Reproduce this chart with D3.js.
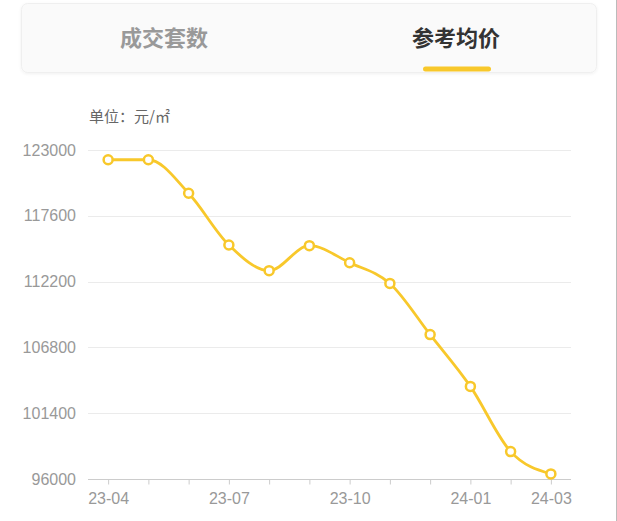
<!DOCTYPE html>
<html>
<head>
<meta charset="utf-8">
<script src="https://cdn.jsdelivr.net/npm/d3@7"></script>
<style>
  html, body { margin: 0; padding: 0; background: #fff; }
  body { width: 617px; height: 521px; overflow: hidden; }
  svg { display: block; }
</style>
</head>
<body>
<svg id="chart" width="617" height="521"></svg>
<script>
// dati (prezzo medio di riferimento, 元/㎡)
var months = ["23-04","23-05","23-06","23-07","23-08","23-09","23-10","23-11","23-12","24-01","24-02","24-03"];
var prices = [122200, 122200, 119450, 115200, 113100, 115150, 113750, 112050, 107850, 103600, 98250, 96420];
var yTicks = [96000, 101400, 106800, 112200, 117600, 123000];
var xLabels = ["23-04","23-07","23-10","24-01","24-03"];
var tabs = ["成交套数", "参考均价"];

var w = 617, h = 521;
// margini dell'area del grafico ("top" e' riservato in window)
var gLeft = 88, gRight = 571, gTop = 150, gBottom = 479;
var yellow = "#f8c82b";
var cjk = "'Noto Sans CJK SC', 'Noto Sans', sans-serif";
var num = "'Liberation Sans', Arial, sans-serif";

var svg = d3.select("#chart");

// ombra leggera della scheda
var defs = svg.append("defs");
var f = defs.append("filter").attr("id", "sh").attr("x", "-5%").attr("y", "-20%").attr("width", "110%").attr("height", "150%");
f.append("feDropShadow").attr("dx", 0).attr("dy", 1).attr("stdDeviation", 1.5).attr("flood-color", "#000").attr("flood-opacity", 0.06);

// schede in alto
svg.append("rect")
    .attr("x", 21.5).attr("y", 3.5)
    .attr("width", 575).attr("height", 69)
    .attr("rx", 6)
    .attr("fill", "#fafafa")
    .attr("stroke", "#efefef")
    .attr("filter", "url(#sh)");

svg.selectAll(".tab")
    .data(tabs)
    .enter()
    .append("text")
    .attr("class", "tab")
    .attr("x", function (d, i) { return i == 0 ? 164 : 456; })
    .attr("y", 46)
    .attr("text-anchor", "middle")
    .attr("font-family", cjk)
    .attr("font-weight", "bold")
    .attr("font-size", 22)
    .attr("fill", function (d, i) { return i == 0 ? "#999" : "#333"; })
    .text(function (d) { return d; });

svg.append("rect")
    .attr("x", 423).attr("y", 66.5)
    .attr("width", 68).attr("height", 5)
    .attr("rx", 2.5)
    .attr("fill", yellow);

// unità
svg.append("text")
    .attr("x", 89).attr("y", 122)
    .attr("font-family", cjk)
    .attr("font-size", 15)
    .attr("fill", "#666")
    .text("单位：元/㎡");

// scale
var x = d3.scalePoint()
    .domain(months)
    .range([gLeft, gRight])
    .padding(0.5);

var y = d3.scaleLinear()
    .domain([96000, 123000])
    .range([gBottom, gTop]);

// griglia
svg.append("g")
    .selectAll("line")
    .data(yTicks.slice(1))
    .enter()
    .append("line")
    .attr("x1", gLeft).attr("x2", gRight)
    .attr("y1", function (d) { return Math.round(y(d)) + 0.5; })
    .attr("y2", function (d) { return Math.round(y(d)) + 0.5; })
    .attr("stroke", "#ebebeb");

// asse y (solo etichette)
var yAxis = svg.append("g")
    .attr("transform", "translate(" + gLeft + ",0)")
    .call(d3.axisLeft(y).tickValues(yTicks).tickSize(0).tickPadding(12).tickFormat(d3.format("d")));
yAxis.select(".domain").remove();
yAxis.selectAll("text")
    .attr("font-family", num)
    .attr("font-size", 16)
    .attr("fill", "#999");

// asse x
var xAxis = svg.append("g")
    .attr("transform", "translate(0," + (gBottom + 0.5) + ")")
    .call(d3.axisBottom(x).tickSizeInner(5).tickSizeOuter(0).tickPadding(8)
        .tickFormat(function (d) { return xLabels.indexOf(d) >= 0 ? d : ""; }));
xAxis.select(".domain").attr("stroke", "#ccc").attr("d", "M" + gLeft + ",0H" + gRight);
xAxis.selectAll(".tick line").attr("stroke", "#ccc");
xAxis.selectAll("text")
    .attr("font-family", num)
    .attr("font-size", 16)
    .attr("fill", "#999");

// linea
var line = d3.line()
    .x(function (d, i) { return x(months[i]); })
    .y(function (d) { return y(d); })
    .curve(d3.curveMonotoneX);

svg.append("path")
    .datum(prices)
    .attr("d", line)
    .attr("fill", "none")
    .attr("stroke", yellow)
    .attr("stroke-width", 2.8);

svg.selectAll(".dot")
    .data(prices)
    .enter()
    .append("circle")
    .attr("class", "dot")
    .attr("cx", function (d, i) { return x(months[i]); })
    .attr("cy", function (d) { return y(d); })
    .attr("r", 4.5)
    .attr("fill", "#fff")
    .attr("stroke", yellow)
    .attr("stroke-width", 2.5);

// bordo destro della pagina
svg.append("line")
    .attr("x1", 616.5).attr("x2", 616.5)
    .attr("y1", 0).attr("y2", h)
    .attr("stroke", "#bbb");
</script>
</body>
</html>
